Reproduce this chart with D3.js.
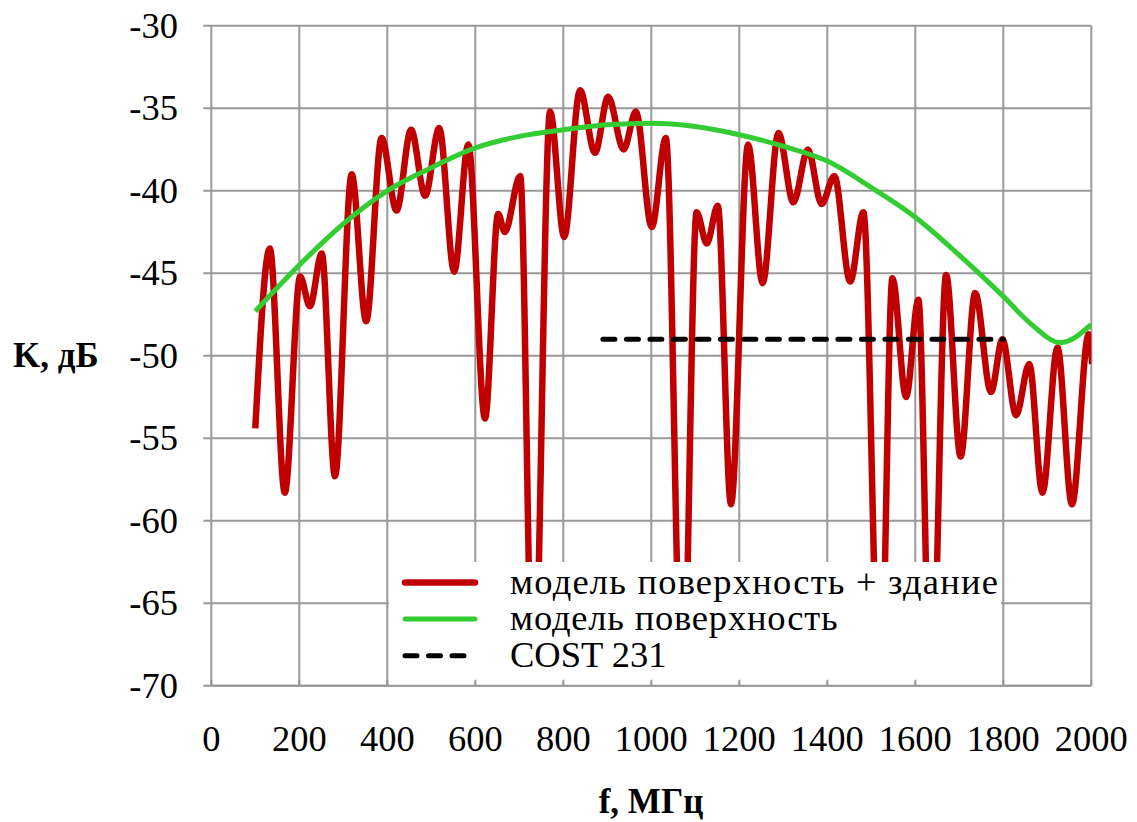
<!DOCTYPE html>
<html lang="ru">
  <head>
    <meta charset="UTF-8" />
    <script src="https://cdn.jsdelivr.net/npm/d3@7/dist/d3.min.js"></script>
    <style type="text/css">
      body {
        margin: 0;
        background-color: #ffffff;
      }
    </style>
    <title>K, дБ vs f, МГц</title>
  </head>
  <body>
    <div class="canvas"></div>
    <script>
      // model "surface + building" (extrema)
      const buildF = [100, 133, 167, 202, 224, 251, 281, 319, 352, 387, 421, 454, 486, 518, 552, 584, 622, 652, 667, 702, 732, 770, 802, 838, 872, 902, 937, 965, 1001, 1033, 1071, 1103, 1126, 1151, 1181, 1220, 1253, 1289, 1323, 1356, 1387, 1416, 1452, 1482, 1520, 1548, 1579, 1607, 1636, 1670, 1703, 1736, 1772, 1798, 1829, 1859, 1889, 1923, 1956, 1994, 2002];
      const buildK = [-54.4, -43.5, -58.3, -45.2, -47.0, -43.8, -57.3, -39.0, -47.9, -36.8, -41.2, -36.3, -40.3, -36.2, -44.9, -37.2, -53.8, -41.4, -42.5, -39.1, -72, -35.2, -42.8, -33.9, -37.7, -34.3, -37.5, -35.2, -42.2, -36.8, -72, -41.3, -43.2, -40.9, -59.0, -37.2, -45.6, -36.5, -40.7, -37.5, -40.8, -39.1, -45.5, -41.3, -72, -45.3, -52.5, -46.6, -72, -45.1, -56.1, -46.2, -52.2, -49.0, -53.6, -50.5, -58.3, -49.5, -59.0, -48.7, -50.5];

      // model "surface"
      const surfF = [100, 200, 300, 400, 500, 600, 700, 800, 900, 1000, 1100, 1200, 1300, 1400, 1500, 1600, 1700, 1800, 1860, 1930, 2000];
      const surfK = [-47.3, -44.5, -42.0, -40.0, -38.6, -37.4, -36.7, -36.3, -36.0, -35.9, -36.1, -36.6, -37.3, -38.2, -39.8, -41.6, -43.9, -46.4, -48.0, -49.2, -48.1];

      // COST 231
      const costF = [890, 1800];
      const costK = [-49, -49];

      const xTicks = [0, 200, 400, 600, 800, 1000, 1200, 1400, 1600, 1800, 2000];
      const yTicks = [-70, -65, -60, -55, -50, -45, -40, -35, -30];
      const legendLabels = ["модель поверхность + здание", "модель поверхность", "COST 231"];

      const W = 1137, H = 822;
      const plot = { left: 211.3, right: 1091.3, top: 25.8, bottom: 685.8 };
      const serif = "'Liberation Serif', 'Times New Roman', 'DejaVu Serif', serif";

      const x = d3.scaleLinear().domain([0, 2000]).range([plot.left, plot.right]);
      const y = d3.scaleLinear().domain([-70, -30]).range([plot.bottom, plot.top]);

      const svg = d3
        .select(".canvas")
        .append("svg")
        .attr("width", W)
        .attr("height", H)
        .attr("font-family", serif)
        .style("font-family", serif);

      svg
        .append("defs")
        .append("clipPath")
        .attr("id", "clip")
        .append("rect")
        .attr("x", plot.left)
        .attr("y", plot.top)
        .attr("width", plot.right - plot.left)
        .attr("height", plot.bottom - plot.top);

      // grid
      const grid = svg.append("g").attr("stroke", "#999").attr("stroke-width", 2);
      grid
        .selectAll("line.v")
        .data(xTicks)
        .join("line")
        .attr("class", "v")
        .attr("x1", (d) => x(d))
        .attr("x2", (d) => x(d))
        .attr("y1", plot.top)
        .attr("y2", plot.bottom);
      grid
        .selectAll("line.h")
        .data(yTicks)
        .join("line")
        .attr("class", "h")
        .attr("x1", plot.left - 8)
        .attr("x2", plot.right)
        .attr("y1", (d) => y(d))
        .attr("y2", (d) => y(d));

      const line = d3
        .line()
        .curve(d3.curveMonotoneX)
        .x((d) => x(d[0]))
        .y((d) => y(d[1]));

      const chart = svg.append("g").attr("clip-path", "url(#clip)");

      chart
        .append("path")
        .datum(buildF.map((f, i) => [f, buildK[i]]))
        .attr("fill", "none")
        .attr("stroke", "#c00000")
        .attr("stroke-width", 6.5)
        .attr("stroke-linejoin", "round")
        .attr("d", line);

      chart
        .append("path")
        .datum(surfF.map((f, i) => [f, surfK[i]]))
        .attr("fill", "none")
        .attr("stroke", "#33cc33")
        .attr("stroke-width", 5)
        .attr("d", line);

      chart
        .append("path")
        .datum(costF.map((f, i) => [f, costK[i]]))
        .attr("fill", "none")
        .attr("stroke", "#000")
        .attr("stroke-width", 5)
        .attr("stroke-linecap", "round")
        .attr("stroke-dasharray", "12,11.5")
        .attr("d", d3.line().x((d) => x(d[0])).y((d) => y(d[1])));

      // legend (white box hides the grid and the deep nulls)
      const legend = svg.append("g");
      legend
        .append("rect")
        .attr("x", 389)
        .attr("y", 562)
        .attr("width", 612)
        .attr("height", 123)
        .attr("fill", "#fff");

      const legendStyles = [
        { color: "#c00000", width: 6.5, dash: null, spacing: 1.2 },
        { color: "#33cc33", width: 5, dash: null, spacing: 0.8 },
        { color: "#000", width: 5, dash: "12,11.5", spacing: 0 },
      ];
      legendLabels.forEach((label, i) => {
        const ly = 582.5 + i * 36.6;
        const s = legendStyles[i];
        legend
          .append("line")
          .attr("x1", 405)
          .attr("x2", i === 2 ? 470 : 475)
          .attr("y1", ly)
          .attr("y2", ly)
          .attr("stroke", s.color)
          .attr("stroke-width", s.width)
          .attr("stroke-linecap", "round")
          .attr("stroke-dasharray", s.dash);
        legend
          .append("text")
          .attr("x", 510)
          .attr("y", ly + 11)
          .style("font-size", "36.5px")
          .style("letter-spacing", s.spacing + "px")
          .text(label);
      });

      // x axis line and inner ticks
      svg
        .append("line")
        .attr("x1", plot.left)
        .attr("x2", plot.right)
        .attr("y1", plot.bottom)
        .attr("y2", plot.bottom)
        .attr("stroke", "#999")
        .attr("stroke-width", 2);
      svg
        .selectAll("line.xt")
        .data(xTicks)
        .join("line")
        .attr("class", "xt")
        .attr("x1", (d) => x(d))
        .attr("x2", (d) => x(d))
        .attr("y1", plot.bottom - 6)
        .attr("y2", plot.bottom)
        .attr("stroke", "#999")
        .attr("stroke-width", 2);

      // tick labels
      svg
        .selectAll("text.yl")
        .data(yTicks)
        .join("text")
        .attr("class", "yl")
        .attr("x", 178)
        .attr("y", (d) => y(d) + 12)
        .attr("text-anchor", "end")
        .style("font-size", "36.5px")
        .text((d) => d);

      svg
        .selectAll("text.xl")
        .data(xTicks)
        .join("text")
        .attr("class", "xl")
        .attr("x", (d) => x(d))
        .attr("y", 751)
        .attr("text-anchor", "middle")
        .style("font-size", "36.5px")
        .text((d) => d);

      // axis titles
      svg
        .append("text")
        .attr("x", 13)
        .attr("y", 367)
        .style("font-size", "35px")
        .style("font-weight", "bold")
        .text("K, дБ");

      svg
        .append("text")
        .attr("x", 651)
        .attr("y", 813)
        .attr("text-anchor", "middle")
        .style("font-size", "35px")
        .style("font-weight", "bold")
        .text("f, МГц");
    </script>
  </body>
</html>
